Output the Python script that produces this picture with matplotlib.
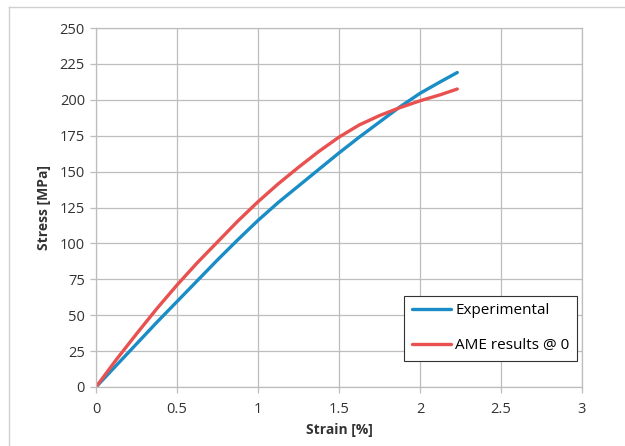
import numpy as np
import matplotlib.pyplot as plt
from matplotlib.lines import Line2D

# values
strain_exp = [0, 0.125, 0.25, 0.375, 0.5, 0.625, 0.75, 0.875, 1.0, 1.125, 1.25, 1.375,
              1.5, 1.625, 1.75, 1.875, 2.0, 2.125, 2.23]
stress_exp = [0, 15, 30, 45, 59.5, 74, 88.5, 102.5, 116, 128.5, 140, 151.5,
              163, 174, 184.5, 195, 204.5, 212.5, 219]
strain_ame = [0, 0.125, 0.25, 0.375, 0.5, 0.625, 0.75, 0.875, 1.0, 1.125, 1.25, 1.375,
              1.5, 1.625, 1.75, 1.875, 2.0, 2.125, 2.23]
stress_ame = [0, 19, 37, 54.5, 71, 86.5, 101, 115.5, 129, 141.5, 153, 164,
              174, 182.5, 189, 194.5, 199.3, 203.5, 207.5]

x_ticks = [0, 0.5, 1, 1.5, 2, 2.5, 3]
x_tick_labels = ['0', '0.5', '1', '1.5', '2', '2.5', '3']
y_ticks = np.arange(0, 251, 25)

blue = '#1a8cc6'
red = '#e8514f'
grid_col = '#bdbdbd'

plt.rcParams['font.family'] = ['Open Sans', 'DejaVu Sans']

fig = plt.figure(figsize=(6.25, 4.46), dpi=100)
ax = fig.add_axes([96/625, 1-387/446, 486/625, 359/446])

ax.plot(strain_exp, stress_exp, color=blue, lw=2.4, solid_capstyle='round',
        solid_joinstyle='round', label='Experimental')
ax.plot(strain_ame, stress_ame, color=red, lw=2.4, solid_capstyle='round',
        solid_joinstyle='round', label='AME results @ 0')

ax.set_xlim(0, 3)
ax.set_ylim(0, 250)
ax.set_xticks(x_ticks)
ax.set_xticklabels(x_tick_labels)
ax.set_yticks(y_ticks)
ax.grid(True, color=grid_col, lw=0.9)
ax.set_axisbelow(True)
for s in ax.spines.values():
    s.set_color(grid_col)
    s.set_linewidth(0.9)
ax.tick_params(axis='both', colors=grid_col, length=4, width=0.9, labelsize=10.5, labelcolor='#333333')
ax.tick_params(axis='x', pad=7)
ax.tick_params(axis='y', pad=4)

ax.set_xlabel('Strain [%]', fontsize=10, fontweight='bold', color='#333333', labelpad=4)
ax.set_ylabel('Stress [MPa]', fontsize=10, fontweight='bold', color='#333333', labelpad=6)

leg = ax.legend(loc='lower right', bbox_to_anchor=(577/625, 1-361/446), bbox_transform=fig.transFigure,
                fontsize=11, fancybox=False, framealpha=1, edgecolor='#333333',
                handlelength=2.6, handletextpad=0.25, labelspacing=1.3, borderpad=0.5,
                borderaxespad=0)
leg.get_frame().set_linewidth(0.8)

# chart area border (Excel style)
fig.add_artist(Line2D([9/625, 1], [1-7/446, 1-7/446], color='#d0d0d0', lw=1, transform=fig.transFigure))
fig.add_artist(Line2D([9/625, 9/625], [0, 1-7/446], color='#d0d0d0', lw=1, transform=fig.transFigure))

fig.savefig('out.png', dpi=100)
